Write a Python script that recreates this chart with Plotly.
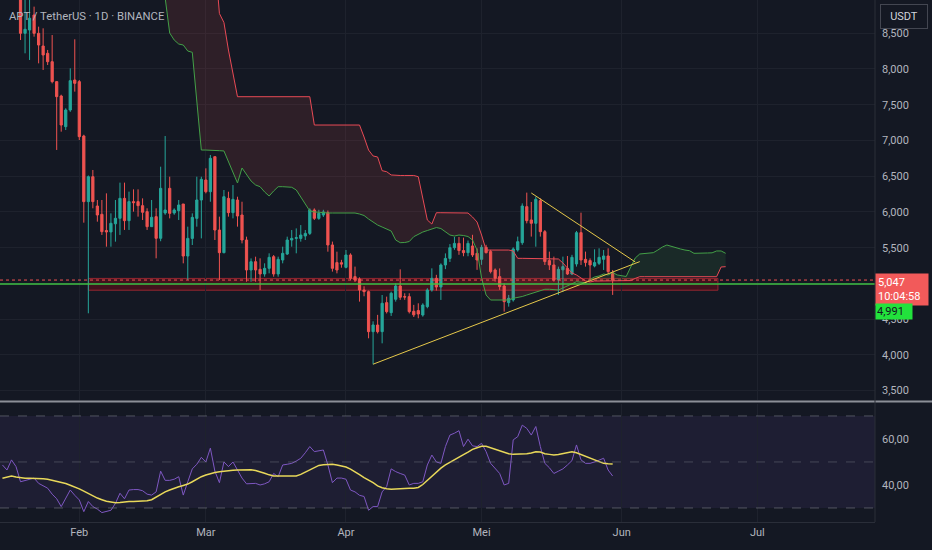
import pandas as pd
import numpy as np
import plotly.graph_objects as go

# ---------------- data ----------------
candle_start = "2025-01-19"
open_ = [9050, 8499, 8545, 8755, 8499, 8321, 8219, 8102, 7823, 7622, 7193, 7426, 7846, 7823, 7062,
         6144, 6493, 6083, 5967, 5740, 5720, 5834, 5911, 6190, 5878, 6144, 6144, 6088, 6004, 5794, 5934,
         5631, 5985, 6330, 5985, 6018, 6111, 5383, 5630, 5910, 6167, 6447, 6283, 6773, 5747, 5430, 6190,
         5990, 6167, 5957, 5607, 5188, 5304, 5197, 5132, 5211, 5374, 5132, 5328, 5411, 5607, 5630, 5630,
         5663, 5700, 6027, 5910, 5957, 5990, 5538, 5291, 5290, 5225, 5398, 5095, 5062, 4908, 4885, 4325,
         4418, 4325, 4731, 4591, 4778, 4964, 4815, 4815, 4610, 4620, 4558, 4675, 4908, 5071, 4950, 5258,
         5350, 5500, 5560, 5460, 5430, 5524, 5421, 5337, 5505, 5445, 5188, 5095, 4964, 4731, 4769, 5468,
         5570, 6074, 5888, 5841, 6158, 5724, 5319, 5258, 5048, 5190, 5211, 5132, 5272, 5710, 5337, 5319,
         5244, 5281, 5337, 5384, 5151]
high = [9150, 9000, 8990, 8872, 8592, 8569, 8266, 8475, 7830, 7640, 7450, 8009, 8415, 7846, 7080,
        6510, 6587, 6167, 6167, 6260, 5980, 6167, 6410, 6410, 6284, 6316, 6316, 6190, 6051, 6167, 6051,
        6633, 7062, 6493, 6050, 6167, 6111, 5794, 5980, 6493, 6493, 6610, 6797, 6773, 5934, 6307, 6283,
        6376, 6213, 6143, 5654, 5350, 5374, 5351, 5281, 5421, 5397, 5374, 5514, 5654, 5747, 5770, 5816,
        5747, 6050, 6050, 6030, 6030, 6020, 5585, 5444, 5330, 5468, 5421, 5235, 5085, 4960, 4900, 4470,
        4560, 4838, 4815, 4885, 5000, 5197, 4862, 4862, 4700, 4722, 4722, 4932, 5211, 5120, 5280, 5420,
        5550, 5650, 5650, 5640, 5600, 5680, 5490, 5540, 5540, 5470, 5210, 5210, 5000, 4839, 5505, 5655,
        6120, 6270, 6140, 6214, 6190, 5747, 5445, 5375, 5235, 5375, 5384, 5400, 5734, 5990, 5445, 5350,
        5477, 5491, 5468, 5491, 5188]
low = [8405, 8219, 8126, 8452, 8079, 7986, 8056, 7799, 6867, 7123, 7146, 7400, 7683, 7006, 5850,
       4582, 6051, 5864, 5678, 5514, 5514, 5584, 5678, 5748, 5748, 6004, 5934, 5887, 5748, 5790, 5351,
       5590, 5960, 5910, 5960, 5887, 5281, 5048, 5537, 5794, 5630, 6260, 6143, 5607, 5048, 5421, 5934,
       5910, 5794, 5560, 5024, 5024, 5024, 4908, 5094, 5141, 5094, 5094, 5281, 5397, 5514, 5421, 5584,
       5607, 5677, 5887, 5890, 5930, 5444, 5165, 5141, 5220, 5211, 5048, 5020, 4745, 4820, 4232, 3868,
       4300, 4162, 4580, 4545, 4745, 4770, 4770, 4580, 4530, 4512, 4535, 4652, 4885, 4900, 4769, 5200,
       5300, 5470, 5400, 5380, 5380, 5370, 5190, 5260, 5420, 5140, 5025, 4910, 4605, 4675, 4745, 5445,
       5540, 5840, 5655, 5514, 5655, 5258, 5188, 5025, 4839, 4885, 5118, 5118, 5235, 5258, 5235, 5039,
       5225, 5258, 5188, 5141, 4839]
close = [8499, 8555, 8710, 8499, 8335, 8196, 8102, 7823, 7613, 7216, 7426, 7836, 7799, 7053, 6144,
         6493, 6144, 5957, 5724, 5720, 5841, 5911, 6190, 5878, 6144, 6130, 6088, 5995, 5794, 5925, 5631,
         6330, 6027, 5980, 6027, 6097, 5383, 5630, 5924, 6167, 6456, 6283, 6750, 5747, 5430, 6213, 5990,
         6176, 5943, 5607, 5188, 5304, 5188, 5132, 5211, 5365, 5132, 5337, 5421, 5607, 5630, 5640, 5677,
         5700, 6027, 5910, 5980, 6000, 5538, 5211, 5188, 5270, 5398, 5071, 5048, 4908, 4885, 4325, 4419,
         4325, 4722, 4605, 4862, 4964, 4806, 4810, 4605, 4560, 4572, 4698, 4908, 5071, 4950, 5258, 5350,
         5500, 5560, 5460, 5430, 5560, 5398, 5328, 5505, 5430, 5165, 5071, 4955, 4745, 4792, 5482, 5584,
         6083, 5878, 5841, 6177, 5724, 5305, 5258, 5048, 5197, 5235, 5132, 5365, 5710, 5328, 5291, 5258,
         5291, 5365, 5384, 5165, 5047]

rsi_start = "2025-01-15"
rsi = [48.7, 46.5, 50.9, 48.0, 41.4, 42.0, 42.5, 43.0, 40.7, 39.5, 38.6, 36.0, 34.0, 30.6, 34.0,
       37.8, 35.5, 33.5, 28.4, 32.8, 30.6, 29.5, 28.0, 28.5, 29.0, 32.0, 36.4, 34.0, 37.8, 38.0,
       38.0, 37.5, 36.0, 35.6, 37.0, 46.0, 42.0, 42.0, 42.5, 43.6, 35.6, 41.4, 47.0, 49.0, 52.0,
       50.0, 56.0, 46.0, 41.0, 50.0, 48.0, 50.0, 46.8, 43.0, 40.5, 40.5, 40.7, 40.0, 40.5, 41.4,
       45.0, 43.6, 48.7, 49.0, 49.4, 50.4, 51.6, 54.0, 56.7, 54.5, 55.0, 55.2, 48.7, 41.0, 43.0,
       43.0, 42.5, 37.8, 37.0, 35.5, 35.0, 29.0, 30.6, 30.6, 37.0, 39.3, 47.0, 45.8, 45.0, 44.3,
       40.0, 40.7, 40.7, 41.4, 48.7, 53.0, 50.0, 49.4, 56.7, 61.7, 62.5, 63.6, 56.7, 59.9, 57.0,
       56.7, 58.1, 54.5, 49.4, 47.0, 45.0, 40.0, 40.7, 59.6, 61.0, 66.0, 64.6, 61.7, 65.4, 56.7,
       49.4, 47.5, 45.0, 46.0, 47.0, 48.7, 50.6, 57.4, 50.9, 49.4, 49.4, 50.0, 50.9, 51.6, 46.5, 43.9]
rsi_ma = [42.9, 43.5, 43.9, 43.5, 43.1, 42.9, 42.9, 42.9, 42.9, 42.7, 42.5, 42.1, 41.7, 41.3, 40.6,
          39.9, 39.2, 38.3, 37.3, 36.3, 35.2, 34.3, 33.6, 32.9, 32.6, 32.3, 32.4, 32.7, 32.8, 32.8,
          32.8, 32.8, 33.1, 33.6, 34.8, 36.0, 37.0, 37.8, 38.6, 39.2, 39.8, 40.4, 41.4, 42.5, 43.6,
          44.3, 45.0, 45.4, 45.7, 46.0, 46.2, 46.4, 46.5, 46.6, 46.8, 46.6, 46.3, 45.8, 45.1, 44.4,
          43.9, 43.9, 43.9, 43.9, 43.9, 43.9, 44.6, 45.5, 46.5, 47.6, 48.5, 48.8, 49.0, 49.0, 48.7,
          48.4, 47.8, 46.9, 45.8, 44.5, 43.2, 42.2, 41.0, 39.6, 38.8, 38.4, 38.1, 38.3, 38.5, 38.6,
          38.6, 38.6, 38.9, 40.2, 42.0, 44.0, 45.7, 47.3, 48.7, 49.9, 51.1, 52.2, 53.2, 54.3, 55.5,
          56.2, 56.8, 56.8, 56.1, 55.4, 54.7, 54.0, 53.6, 53.3, 53.3, 53.4, 53.6, 53.9, 54.4, 54.3,
          53.6, 53.3, 53.0, 53.2, 53.5, 54.0, 54.4, 54.0, 53.2, 52.6, 51.8, 50.9, 50.2, 49.4, 49.2, 49.1]

span_start = "2025-02-20"
span_a = [8993, 8503, 8405, 8349, 8335, 8251, 8233, 7566, 6866, 6866, 6866, 6860, 6857, 6853, 6699,
          6545, 6405, 6615, 6531, 6433, 6377, 6353, 6279, 6223, 6293, 6353, 6353, 6349, 6345, 6307,
          6209, 6097, 6013, 6000, 5992, 5989, 5985, 5985, 5985, 5985, 5985, 5985, 5985, 5971, 5950,
          5901, 5859, 5817, 5789, 5761, 5733, 5607, 5570, 5572, 5586, 5654, 5691, 5719, 5740, 5757,
          5782, 5768, 5719, 5677, 5663, 5677, 5670, 5656, 5607, 5467, 5076, 4838, 4768, 4768, 4768,
          4768, 4768, 4792, 4803, 4817, 4838, 4859, 4884, 4901, 4918, 4918, 4908, 4908, 4936, 4964,
          4992, 5024, 5016, 5010, 5055, 5090, 5104, 5132, 5118, 5153, 5118, 5104, 5097, 5230, 5356,
          5412, 5419, 5426, 5430, 5467, 5509, 5537, 5516, 5495, 5482, 5467, 5458, 5421, 5426, 5426,
          5426, 5428, 5454, 5454, 5421]
span_b = [9550, 9550, 9550, 9550, 9550, 9550, 9550, 9550, 9550, 9550, 9550, 9550, 8776, 8650, 8265,
          7916, 7612, 7612, 7612, 7612, 7612, 7612, 7612, 7612, 7612, 7612, 7612, 7612, 7612, 7612,
          7612, 7612, 7612, 7216, 7216, 7216, 7216, 7216, 7216, 7216, 7216, 7216, 7216, 7216, 7048,
          6866, 6783, 6769, 6577, 6563, 6517, 6510, 6510, 6510, 6510, 6510, 6493, 6167, 5887, 5831,
          5989, 5989, 5989, 5989, 5989, 5989, 5989, 5985, 5929, 5859, 5677, 5467, 5467, 5467, 5467,
          5467, 5467, 5454, 5351, 5351, 5351, 5351, 5351, 5351, 5351, 5351, 5351, 5342, 5286, 5216,
          5146, 5118, 5076, 5034, 5020, 5034, 5034, 5034, 5034, 5034, 5034, 5034, 5034, 5040, 5070,
          5094, 5094, 5094, 5094, 5094, 5094, 5094, 5094, 5094, 5094, 5094, 5094, 5094, 5094, 5094,
          5094, 5094, 5094, 5230, 5234]

tri_lower_dates = ["2025-04-07", "2025-06-05"]
tri_lower_prices = [3870, 5305]
tri_upper_dates = ["2025-05-12", "2025-06-04"]
tri_upper_prices = [6265, 5300]

zone_dates = ["2025-02-03", "2025-06-22 07:00"]
zone_prices = [4905, 5070]

last_price = 5047
level_price = 4991
countdown = "10:04:58"

month_ticks = ["2025-02-01", "2025-03-01", "2025-04-01", "2025-05-01", "2025-06-01", "2025-07-01"]
month_labels = ["Feb", "Mar", "Apr", "Mei", "Jun", "Jul"]
price_ticks = [3500, 4000, 4500, 5000, 5500, 6000, 6500, 7000, 7500, 8000, 8500]
rsi_ticks = [40, 60]
rsi_tick_labels = ["40,00", "60,00"]

# ---------------- style ----------------
BG = "#141823"
GRID = "#1e222d"
TXT = "#b2b5be"
UP = "#26a69a"
DOWN = "#ef5350"
FONT = "Roboto"

W, H = 932, 550
ML, MR, MT, MB = 0, 57, 0, 28
PW, PH = W - ML - MR, H - MT - MB


def py(px):
    return 1 - px / PH


dates = pd.date_range(candle_start, periods=len(close), freq="D")
rsi_dates = pd.date_range(rsi_start, periods=len(rsi), freq="D")
span_dates = pd.date_range(span_start, periods=len(span_a), freq="D")

fig = go.Figure()

# ----- Ichimoku cloud fill, split where the spans cross -----
t = span_dates.astype("int64").to_numpy().astype(float)
a = np.array(span_a, dtype=float)
b = np.array(span_b, dtype=float)
runs = []
cur = {"t": [t[0]], "a": [a[0]], "b": [b[0]], "up": a[0] >= b[0]}
for i in range(1, len(t)):
    up = a[i] >= b[i]
    if up != cur["up"]:
        d0 = a[i - 1] - b[i - 1]
        d1 = a[i] - b[i]
        f = d0 / (d0 - d1)
        tc = t[i - 1] + f * (t[i] - t[i - 1])
        vc = a[i - 1] + f * (a[i] - a[i - 1])
        cur["t"].append(tc); cur["a"].append(vc); cur["b"].append(vc)
        runs.append(cur)
        cur = {"t": [tc], "a": [vc], "b": [vc], "up": up}
    cur["t"].append(t[i]); cur["a"].append(a[i]); cur["b"].append(b[i])
runs.append(cur)

for r in runs:
    xs = pd.to_datetime(np.array(r["t"]).astype("int64"))
    fig.add_trace(go.Scatter(x=xs, y=r["b"], mode="lines", line=dict(width=0),
                             hoverinfo="skip", showlegend=False))
    fig.add_trace(go.Scatter(x=xs, y=r["a"], mode="lines", line=dict(width=0),
                             fill="tonexty",
                             fillcolor="rgba(76,175,80,0.12)" if r["up"] else "rgba(239,83,80,0.12)",
                             hoverinfo="skip", showlegend=False))

fig.add_trace(go.Scatter(x=span_dates, y=span_a, mode="lines", line=dict(color="#43a047", width=1),
                         hoverinfo="skip", showlegend=False))
fig.add_trace(go.Scatter(x=span_dates, y=span_b, mode="lines", line=dict(color="#e84a55", width=1),
                         hoverinfo="skip", showlegend=False))

# ----- candles -----
fig.add_trace(go.Candlestick(
    x=dates, open=open_, high=high, low=low, close=close,
    increasing=dict(line=dict(color=UP, width=1), fillcolor=UP),
    decreasing=dict(line=dict(color=DOWN, width=1), fillcolor=DOWN),
    whiskerwidth=0, hoverinfo="skip", showlegend=False))

# ----- triangle -----
fig.add_trace(go.Scatter(x=tri_lower_dates, y=tri_lower_prices, mode="lines",
                         line=dict(color="#e6c84a", width=1), hoverinfo="skip", showlegend=False))
fig.add_trace(go.Scatter(x=tri_upper_dates, y=tri_upper_prices, mode="lines",
                         line=dict(color="#e6c84a", width=1), hoverinfo="skip", showlegend=False))

# ----- RSI -----
fig.add_trace(go.Scatter(x=rsi_dates, y=rsi, mode="lines", line=dict(color="#7e57c2", width=1),
                         xaxis="x", yaxis="y2", hoverinfo="skip", showlegend=False))
fig.add_trace(go.Scatter(x=rsi_dates, y=rsi_ma, mode="lines", line=dict(color="#e8d85a", width=1.5),
                         xaxis="x", yaxis="y2", hoverinfo="skip", showlegend=False))

shapes = [
    # RSI band and levels
    dict(type="rect", xref="paper", yref="y2", x0=0, x1=1, y0=30, y1=70,
         fillcolor="rgba(126,87,194,0.10)", line=dict(width=0), layer="below"),
    dict(type="line", xref="paper", yref="y2", x0=0, x1=1, y0=70, y1=70,
         line=dict(color="rgba(120,123,134,0.6)", width=1, dash="dash")),
    dict(type="line", xref="paper", yref="y2", x0=0, x1=1, y0=50, y1=50,
         line=dict(color="rgba(120,123,134,0.45)", width=1, dash="dash")),
    dict(type="line", xref="paper", yref="y2", x0=0, x1=1, y0=30, y1=30,
         line=dict(color="rgba(120,123,134,0.6)", width=1, dash="dash")),
    # support zone
    dict(type="rect", xref="x", yref="y", x0=zone_dates[0], x1=zone_dates[1],
         y0=zone_prices[0], y1=zone_prices[1], fillcolor="rgba(90,16,26,0.65)",
         line=dict(color="rgba(160,40,50,0.9)", width=1), layer="below"),
    # last price & level line
    dict(type="line", xref="paper", yref="y", x0=0, x1=1, y0=last_price, y1=last_price,
         line=dict(color="#ef5350", width=1, dash="dot")),
    dict(type="line", xref="paper", yref="y", x0=0, x1=1, y0=level_price, y1=level_price,
         line=dict(color="#3fbf45", width=1.5)),
    # pane separator and borders
    dict(type="line", xref="paper", yref="paper", x0=0, x1=W / PW, y0=py(401.5), y1=py(401.5),
         line=dict(color="#8c8f98", width=2)),
    dict(type="line", xref="paper", yref="paper", x0=1, x1=1, y0=0, y1=1,
         line=dict(color="#2a2e39", width=1)),
]

annotations = [
    dict(text="APT / TetherUS · 1D · BINANCE", xref="paper", yref="paper", x=7 / PW, y=py(16),
         xanchor="left", yanchor="middle", showarrow=False, font=dict(color=TXT, size=11.3, family=FONT)),
    dict(text="USDT", xref="paper", yref="paper", x=880 / PW, y=py(4), xanchor="left", yanchor="top",
         showarrow=False, bgcolor="#141823", bordercolor="#434651", borderwidth=1, borderpad=5,
         width=36, font=dict(color="#d1d4dc", size=11, family=FONT)),
    dict(text=f"{last_price:,}<br>{countdown}", xref="paper", yref="paper", x=1, y=py(273),
         xanchor="left", yanchor="top", align="left", showarrow=False, bgcolor="#f25a5a",
         borderpad=2, width=48, font=dict(color="#ffffff", size=11, family=FONT)),
    dict(text=f"{level_price:,}", xref="paper", yref="paper", x=1, y=py(303),
         xanchor="left", yanchor="top", align="left", showarrow=False, bgcolor="#22e23c",
         borderpad=1, width=34, font=dict(color="#131722", size=11, family=FONT)),
]

fig.update_layout(
    width=W, height=H,
    margin=dict(l=ML, r=MR, t=MT, b=MB),
    paper_bgcolor=BG, plot_bgcolor=BG,
    font=dict(family=FONT, color=TXT, size=11),
    showlegend=False,
    shapes=shapes, annotations=annotations,
    xaxis=dict(type="date", range=["2025-01-14 11:00", "2025-07-27 01:00"], anchor="y2",
               domain=[0, 1], showgrid=True, gridcolor=GRID, gridwidth=1,
               tickvals=month_ticks, ticktext=month_labels, ticks="",
               tickfont=dict(color=TXT, size=11, family=FONT),
               showline=True, linecolor="#2a2e39", zeroline=False,
               rangeslider=dict(visible=False), fixedrange=True),
    yaxis=dict(domain=[1 - 400 / PH, 1], range=[3369, 8965], side="right", anchor="x",
               tickvals=price_ticks, ticktext=[f"{v:,}" for v in price_ticks],
               showgrid=True, gridcolor=GRID, zeroline=False, ticks="",
               ticklabelstandoff=6, tickfont=dict(color=TXT, size=11, family=FONT)),
    yaxis2=dict(domain=[0, 1 - 404 / PH], range=[23.9, 75.2], side="right", anchor="x",
                tickvals=rsi_ticks, ticktext=rsi_tick_labels, showgrid=False, zeroline=False,
                ticks="", ticklabelstandoff=6, tickfont=dict(color=TXT, size=11, family=FONT)),
)

fig.write_html("out.html", config={"displayModeBar": False, "staticPlot": True},
               post_script="document.body.style.margin='0';document.body.style.overflow='hidden';"
                           "document.body.style.background='#141823';")
